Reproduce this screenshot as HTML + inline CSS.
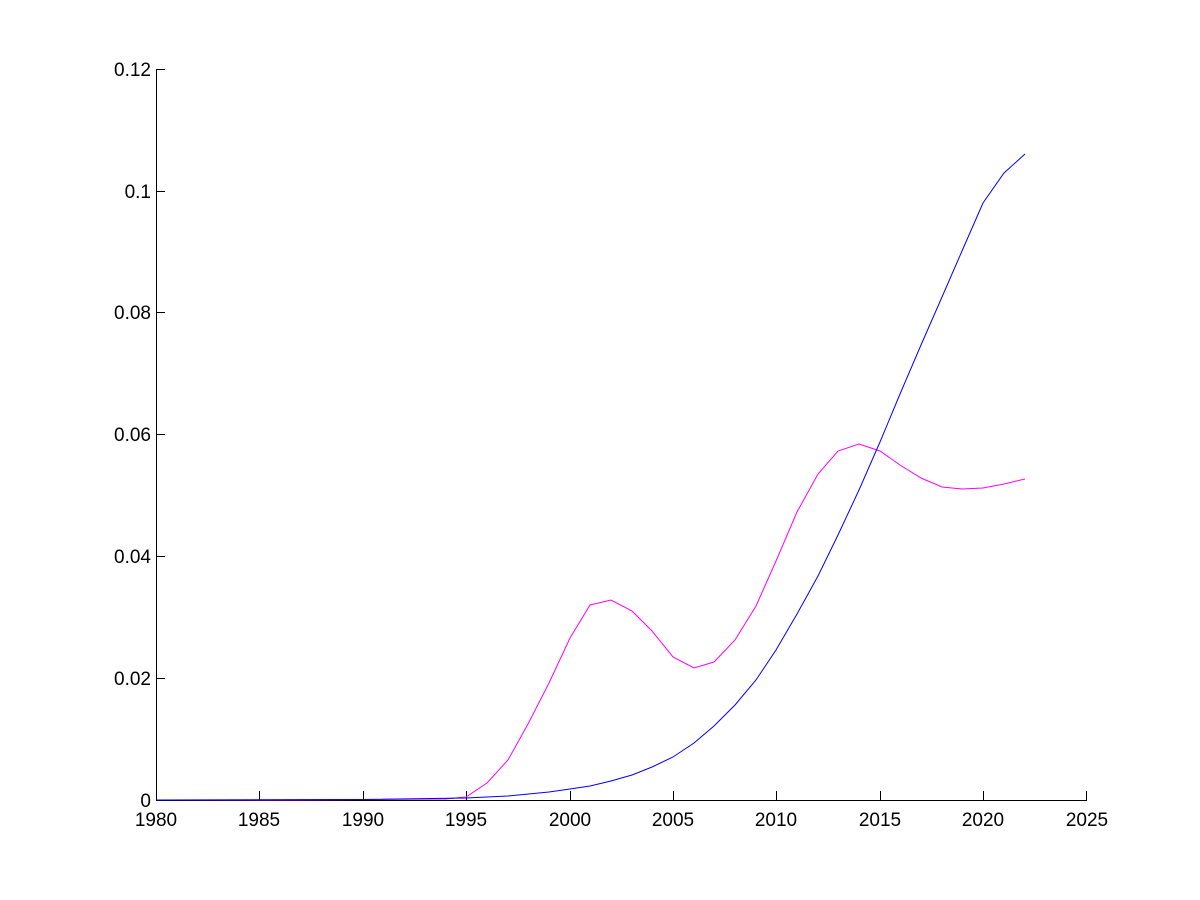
<!DOCTYPE html>
<html><head><meta charset="utf-8"><style>
html,body{margin:0;padding:0;background:#fff;width:1200px;height:900px;overflow:hidden}
text{font-family:"Liberation Sans",Arial,sans-serif;font-size:19px;fill:#000}
</style></head><body>
<svg width="1200" height="900" xmlns="http://www.w3.org/2000/svg">
<rect width="1200" height="900" fill="#fff"/>
<g stroke="#000" stroke-width="1" fill="none">
<line x1="156.5" y1="69" x2="156.5" y2="800"/>
<line x1="156" y1="800.5" x2="1087" y2="800.5"/>
<line x1="156" y1="69.5" x2="165" y2="69.5"/>
<line x1="156" y1="191.5" x2="165" y2="191.5"/>
<line x1="156" y1="312.5" x2="165" y2="312.5"/>
<line x1="156" y1="434.5" x2="165" y2="434.5"/>
<line x1="156" y1="556.5" x2="165" y2="556.5"/>
<line x1="156" y1="678.5" x2="165" y2="678.5"/>
<line x1="259.5" y1="800" x2="259.5" y2="791"/>
<line x1="363.5" y1="800" x2="363.5" y2="791"/>
<line x1="466.5" y1="800" x2="466.5" y2="791"/>
<line x1="570.5" y1="800" x2="570.5" y2="791"/>
<line x1="673.5" y1="800" x2="673.5" y2="791"/>
<line x1="776.5" y1="800" x2="776.5" y2="791"/>
<line x1="880.5" y1="800" x2="880.5" y2="791"/>
<line x1="983.5" y1="800" x2="983.5" y2="791"/>
<line x1="1086.5" y1="800" x2="1086.5" y2="791"/>
</g>
<g text-anchor="end">
<text x="151" y="76">0.12</text>
<text x="151" y="198">0.1</text>
<text x="151" y="319">0.08</text>
<text x="151" y="441">0.06</text>
<text x="151" y="563">0.04</text>
<text x="151" y="685">0.02</text>
<text x="151" y="807">0</text>
</g>
<g text-anchor="middle">
<text x="156" y="826">1980</text>
<text x="259" y="826">1985</text>
<text x="363" y="826">1990</text>
<text x="466" y="826">1995</text>
<text x="570" y="826">2000</text>
<text x="673" y="826">2005</text>
<text x="776" y="826">2010</text>
<text x="880" y="826">2015</text>
<text x="983" y="826">2020</text>
<text x="1087" y="826">2025</text>
</g>
<polyline fill="none" stroke="#ff00ff" stroke-width="1" points="156,800 280,800 363,799.5 445,799 466,797 487,783 508,760 528,724 549,683 570,638 590,605 611,600 632,611 652,631 673,657 694,668 714,662 735,640 756,606 776,561 797,512 818,474 838,451 859,444 880,451 900,465 921,478 942,487 962,489 983,488 1004,484 1025,479"/>
<polyline fill="none" stroke="#0000ff" stroke-width="1" points="156,800 363,799.5 466,798 508,796 549,792 570,789 590,786 611,781 632,775 652,767 673,757 694,743 714,726 735,705 756,680 776,650 797,614 818,576 838,535 859,490 880,442 900,394 921,345 942,297 962,251 983,203 1004,173 1025,154"/>
</svg>
</body></html>
